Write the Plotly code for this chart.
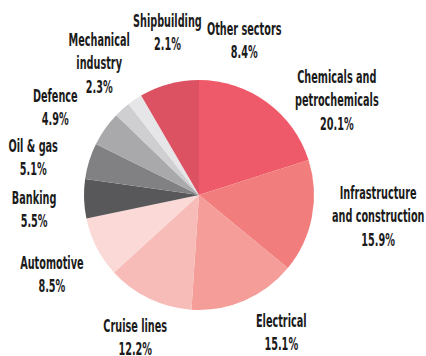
import plotly.graph_objects as go

# Sector shares of the portfolio (%), clockwise from 12 o'clock
sectors = ["Chemicals and petrochemicals", "Infrastructure and construction", "Electrical",
           "Cruise lines", "Automotive", "Banking", "Oil & gas", "Defence",
           "Mechanical industry", "Shipbuilding", "Other sectors"]
shares = [20.1, 15.9, 15.1, 12.2, 8.5, 5.5, 5.1, 4.9, 2.3, 2.1, 8.4]
label_lines = [["Chemicals and", "petrochemicals"], ["Infrastructure", "and construction"],
               ["Electrical"], ["Cruise lines"], ["Automotive"], ["Banking"], ["Oil & gas"],
               ["Defence"], ["Mechanical", "industry"], ["Shipbuilding"], ["Other sectors"]]
colors = ["#ef5a6a", "#f27d7d", "#f49d99", "#f7bbb8", "#fad9d6", "#58585b",
          "#818184", "#a9a9ac", "#cfcfd1", "#e6e6e8", "#dc5263"]

# Label centres in pixels (x from left, y from top) on the 426x356 canvas
label_px = [(337, 100), (378, 216), (281, 332), (135, 337), (52, 274), (34, 209),
            (33, 157), (55, 107), (99, 63), (167, 32), (244, 40)]

W, H = 426, 356
cx, cy, r = 199, 195, 115

fig = go.Figure(go.Pie(
    labels=sectors, values=shares, sort=False, direction="clockwise", rotation=0,
    marker=dict(colors=colors, line=dict(width=0)), textinfo="none",
    hoverinfo="label+percent",
    domain=dict(x=[(cx - r) / W, (cx + r) / W], y=[(H - cy - r) / H, (H - cy + r) / H]),
))

font = dict(family="DejaVu Sans Condensed, Liberation Sans Narrow, sans-serif",
            size=18, color="#1b1b1b")
for lines, v, (px, py) in zip(label_lines, shares, label_px):
    txt = "<br>".join(lines + [f"{v:.1f}%"])
    fig.add_annotation(x=px / W, y=1 - py / H, xref="paper", yref="paper",
                       text=f"<b>{txt}</b>", showarrow=False, font=font,
                       align="center", xanchor="center", yanchor="middle")

fig.update_layout(width=W, height=H, margin=dict(l=0, r=0, t=0, b=0),
                  showlegend=False, paper_bgcolor="white", plot_bgcolor="white")

# Narrow the label lettering horizontally for a compressed headline look
squeeze = """
var s = document.createElement('style');
s.textContent = '.annotation-text{transform-box:fill-box;transform-origin:center;transform:scaleX(0.6);}';
document.head.appendChild(s);
"""
fig.write_html("out.html", post_script=squeeze)
